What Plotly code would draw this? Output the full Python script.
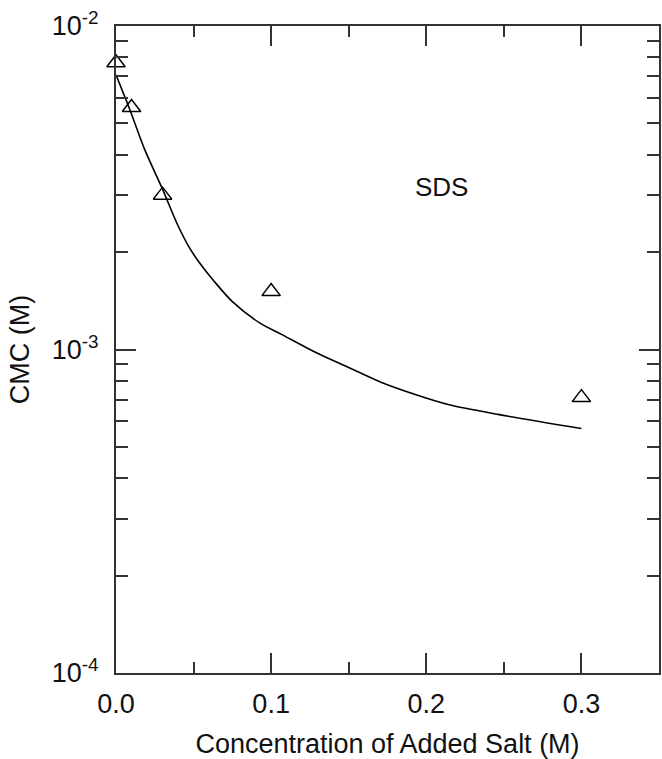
import plotly.graph_objects as go

# Experimental CMC data (triangles)
salt_exp = [0.0, 0.01, 0.03, 0.10, 0.30]
cmc_exp = [7.7e-3, 5.6e-3, 3.0e-3, 1.51e-3, 7.1e-4]

# Theoretical curve
salt_curve = [0.0, 0.009, 0.0186, 0.0301, 0.0397, 0.0474, 0.0538, 0.0635, 0.075,
              0.0923, 0.107, 0.1288, 0.150, 0.1712, 0.1929, 0.2141, 0.2462, 0.300]
cmc_curve = [7.06e-3, 5.50e-3, 4.14e-3, 3.12e-3, 2.43e-3, 2.06e-3, 1.855e-3, 1.62e-3,
             1.406e-3, 1.211e-3, 1.112e-3, 9.79e-4, 8.80e-4, 7.91e-4, 7.26e-4,
             6.76e-4, 6.30e-4, 5.70e-4]

y_major = [1e-4, 1e-3, 1e-2]
y_major_text = ["10<sup>-4</sup>", "10<sup>-3</sup>", "10<sup>-2</sup>"]
y_minor = [m * d for d in (1e-4, 1e-3) for m in range(2, 10)]
x_major = [0.0, 0.1, 0.2, 0.3]
x_major_text = ["0.0", "0.1", "0.2", "0.3"]
x_minor = [0.05, 0.15, 0.25, 0.35]

FONT = "Liberation Sans, Arial, sans-serif"
AXC = "#333333"
TXT = "#111111"

fig = go.Figure()
fig.add_trace(go.Scatter(x=salt_curve, y=cmc_curve, mode="lines",
                         line=dict(color="black", width=1.6, shape="spline", smoothing=0.8),
                         showlegend=False))
fig.add_trace(go.Scatter(x=salt_exp, y=cmc_exp, mode="markers",
                         marker=dict(symbol="triangle-up-open", size=16,
                                     color="black", line=dict(width=1.5, color="black")),
                         showlegend=False, cliponaxis=False))

fig.update_layout(
    width=662, height=759,
    margin=dict(l=116, r=1, t=26, b=85),
    paper_bgcolor="white", plot_bgcolor="white",
    font=dict(family=FONT, size=27, color=TXT),
    xaxis=dict(range=[0, 0.35], tickmode="array", tickvals=x_major, ticktext=x_major_text,
               ticks="inside", ticklen=20, tickwidth=1.5, tickcolor=AXC,
               showline=True, linecolor=AXC, linewidth=2, mirror="allticks",
               showgrid=False, zeroline=False, ticklabelstandoff=6,
               minor=dict(tickmode="array", tickvals=x_minor,
                          ticks="inside", ticklen=11, tickwidth=1.5, tickcolor=AXC, showgrid=False),
               title=dict(text="Concentration of Added Salt (M)", font=dict(size=27, color=TXT), standoff=20),
               tickfont=dict(size=27, color=TXT)),
    yaxis=dict(type="log", range=[-4, -2], tickmode="array", tickvals=y_major, ticktext=y_major_text,
               ticks="inside", ticklen=20, tickwidth=1.5, tickcolor=AXC,
               showline=True, linecolor=AXC, linewidth=2, mirror="allticks",
               showgrid=False, zeroline=False, ticklabelstandoff=10,
               minor=dict(tickmode="array", tickvals=y_minor,
                          ticks="inside", ticklen=12, tickwidth=1.5, tickcolor=AXC, showgrid=False),
               title=dict(text="CMC (M)", font=dict(size=27, color=TXT), standoff=14),
               tickfont=dict(size=27, color=TXT)),
    annotations=[dict(text="SDS", xref="paper", yref="paper", x=0.6, y=0.778,
                      showarrow=False, font=dict(size=26, family=FONT, color=TXT))],
)

fig.write_html("out.html")
